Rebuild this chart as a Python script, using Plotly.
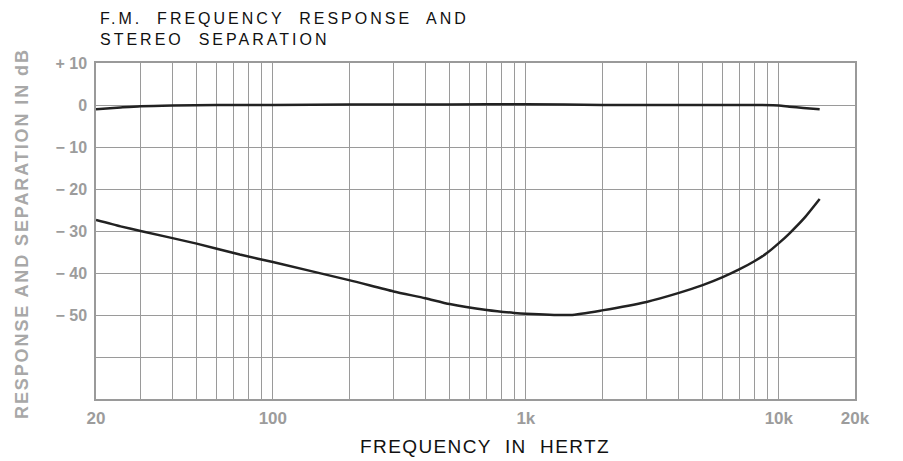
import math
import plotly.graph_objects as go

# ---- data ----
resp_freq = [20, 25, 30, 40, 60, 100, 200, 500, 1000, 2000, 5000, 8000, 10000, 11000, 12500, 14500]
resp_db = [-1.0, -0.6, -0.3, -0.1, 0.0, 0.0, 0.1, 0.1, 0.2, 0.0, 0.0, 0.0, -0.1, -0.4, -0.7, -1.0]

sep_freq = [20, 25, 30, 50, 74, 100, 200, 300, 400, 500, 700, 900, 1000, 1500, 2000, 3000, 4000,
            5000, 6000, 7000, 8000, 9000, 10000, 11000, 12700, 14500]
sep_db = [-27.4, -28.9, -30.0, -33.0, -35.6, -37.4, -41.7, -44.4, -46.0, -47.4, -48.8, -49.5, -49.7,
          -50.0, -48.9, -46.9, -44.8, -42.9, -41.0, -39.1, -37.2, -35.2, -32.9, -30.6, -26.7, -22.4]

x_grid = [20, 30, 40, 50, 60, 70, 80, 90, 100, 200, 300, 400, 500, 600, 700, 800, 900,
          1000, 2000, 3000, 4000, 5000, 6000, 7000, 8000, 9000, 10000, 20000]
x_labels = {20: "20", 100: "100", 1000: "1k", 10000: "10k", 20000: "20k"}

y_grid = [-70, -60, -50, -40, -30, -20, -10, 0, 10]
y_labels = ["", "", "− 50", "− 40", "− 30", "− 20", "− 10", "0", "+ 10"]

title_lines = ["F.M.  FREQUENCY  RESPONSE  AND", "STEREO  SEPARATION"]
x_title = "FREQUENCY  IN  HERTZ"
y_title = "RESPONSE AND SEPARATION IN dB"

GRID = "#9a9a9a"
LABEL = "#9c9c9c"
FONT = "Liberation Sans, Arial, sans-serif"

fig = go.Figure()
fig.add_trace(go.Scatter(x=resp_freq, y=resp_db, mode="lines",
                         line=dict(color="#222222", width=2.5, shape="spline", smoothing=0.6),
                         hoverinfo="skip", showlegend=False))
fig.add_trace(go.Scatter(x=sep_freq, y=sep_db, mode="lines",
                         line=dict(color="#222222", width=2.5, shape="spline", smoothing=0.6),
                         hoverinfo="skip", showlegend=False))

fig.update_xaxes(type="log", range=[math.log10(20), math.log10(20000)],
                 tickvals=x_grid, ticktext=[x_labels.get(v, "") for v in x_grid],
                 showgrid=True, gridcolor=GRID, gridwidth=1,
                 showline=True, linecolor=GRID, linewidth=1.5, mirror=True,
                 ticks="", zeroline=False, ticklabelstandoff=3,
                 tickfont=dict(family=FONT, size=17, color=LABEL, weight="bold"))
fig.update_yaxes(range=[-70, 10], tickvals=y_grid, ticktext=y_labels,
                 showgrid=True, gridcolor=GRID, gridwidth=1,
                 showline=True, linecolor=GRID, linewidth=1.5, mirror=True,
                 ticks="", zeroline=False, ticklabelstandoff=4,
                 tickfont=dict(family=FONT, size=16, color=LABEL, weight="bold"))

PW = 759.0
PH = 336.0
fig.add_annotation(xref="paper", yref="paper", x=(98 - 96) / PW, y=1 + (63 - 8) / PH,
                   xanchor="left", yanchor="top", align="left", showarrow=False,
                   text="<br>".join('<span style="letter-spacing:3px">%s</span>' % t for t in title_lines),
                   font=dict(family=FONT, size=16, color="#111111"))
fig.add_annotation(xref="paper", yref="paper", x=(484.5 - 96) / PW, y=(399 - 446) / PH,
                   xanchor="center", yanchor="middle", showarrow=False,
                   text='<span style="letter-spacing:1.4px">%s</span>' % x_title,
                   font=dict(family=FONT, size=19, color="#111111"))
fig.add_annotation(xref="paper", yref="paper", x=(22 - 96) / PW, y=(399 - 234) / PH,
                   xanchor="center", yanchor="middle", showarrow=False, textangle=-90,
                   text='<span style="letter-spacing:1.9px">%s</span>' % y_title,
                   font=dict(family=FONT, size=18, color="#a8a8a8", weight="bold"))

# page body has an 8px default margin, so the figure is drawn 8px smaller
fig.update_layout(width=895, height=453, margin=dict(l=88, r=48, t=55, b=62),
                  paper_bgcolor="white", plot_bgcolor="white", showlegend=False)

fig.write_html("out.html")
